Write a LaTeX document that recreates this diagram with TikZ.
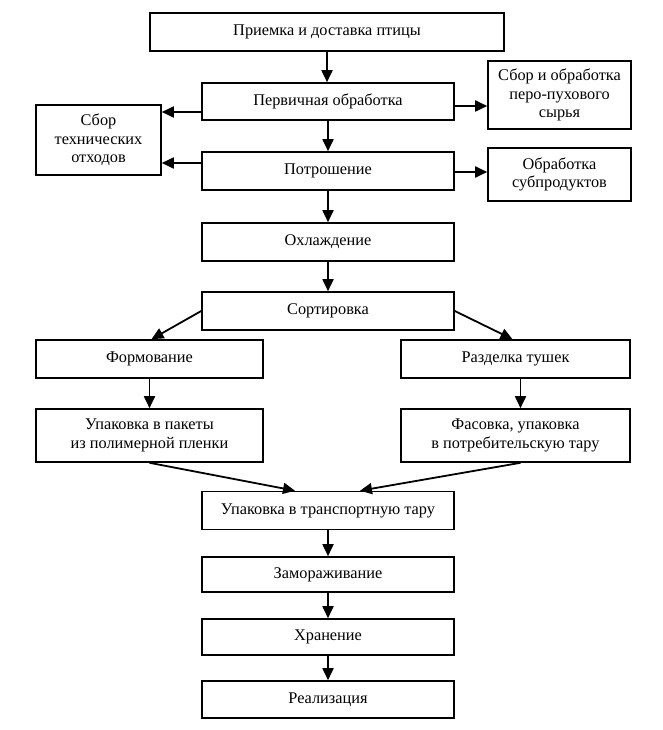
\documentclass[tikz,border=0pt]{standalone}
\usepackage{fontspec}
\setmainfont{Liberation Serif}
\usetikzlibrary{arrows.meta,calc}
\begin{document}
\begin{tikzpicture}[x=1pt,y=-1pt,
  box/.style={draw=black,line width=1.6pt,rectangle,inner sep=0pt,align=center,
    font=\fontsize{16.3}{18.5}\selectfont},
  arr/.style={line width=1.8pt,-{Triangle[length=12pt,width=11pt]}}]
\useasboundingbox[fill=white] (0,0) rectangle (663,730);
\node[box,minimum width=354pt,minimum height=38pt] (top) at (327,32) {Приемка и доставка птицы};
\node[box,minimum width=252pt,minimum height=37pt] (perv) at (328,101.5) {Первичная обработка};
\node[box,minimum width=143pt,minimum height=68pt] (pero) at (559.5,95) {Сбор и обработка\\перо-пухового\\сырья};
\node[box,minimum width=125pt,minimum height=70pt] (tech) at (98.5,140) {Сбор\\технических\\отходов};
\node[box,minimum width=252pt,minimum height=38pt] (potr) at (328,171) {Потрошение};
\node[box,minimum width=143pt,minimum height=53pt] (subp) at (559.5,174.5) {Обработка\\субпродуктов};
\node[box,minimum width=252pt,minimum height=38pt] (ohl) at (328,242) {Охлаждение};
\node[box,minimum width=252pt,minimum height=38pt] (sort) at (328,311) {Сортировка};
\node[box,minimum width=227pt,minimum height=38pt] (form) at (149.5,359) {Формование};
\node[box,minimum width=229pt,minimum height=38pt] (razd) at (515.5,359) {Разделка тушек};
\node[box,minimum width=227pt,minimum height=53pt] (upak) at (149.5,435.5) {Упаковка в пакеты\\из полимерной пленки};
\node[box,minimum width=229pt,minimum height=53pt] (fas) at (515.5,435.5) {Фасовка, упаковка\\в потребительскую тару};
\node[box,minimum width=252pt,minimum height=38pt] (trans) at (328,510.5) {Упаковка в транспортную тару};
\node[box,minimum width=252pt,minimum height=35pt] (zam) at (328,574.5) {Замораживание};
\node[box,minimum width=252pt,minimum height=36pt] (hran) at (328,637) {Хранение};
\node[box,minimum width=252pt,minimum height=37pt] (real) at (328,699.5) {Реализация};
% vertical main flow
\draw[arr] (top.south) -- (top.south |- perv.north);
\draw[arr] (perv) -- (potr);
\draw[arr] (potr) -- (ohl);
\draw[arr] (ohl) -- (sort);
\draw[arr] (trans) -- (zam);
\draw[arr] (zam) -- (hran);
\draw[arr] (hran) -- (real);
% side branches
\draw[arr] (perv.east |- 0,106) -- (pero.west |- 0,106);
\draw[arr] (perv.west |- 0,112) -- (tech.east |- 0,112);
\draw[arr] (potr.west |- 0,163) -- (tech.east |- 0,163);
\draw[arr] (potr.east |- 0,172) -- (subp.west |- 0,172);
% split
\draw[arr] (sort.west) -- ($(form.north)+(2,0)$);
\draw[arr] (sort.east) -- ($(razd.north)+(-3,0)$);
\draw[arr] (form) -- (upak);
\draw[arr] ($(razd.south)+(5,0)$) -- ($(fas.north)+(5,0)$);
% merge
\draw[arr] (upak.south) -- ($(trans.north)+(-33,0)$);
\draw[arr] ($(fas.south)+(5,0)$) -- ($(trans.north)+(32,0)$);
\end{tikzpicture}
\end{document}
